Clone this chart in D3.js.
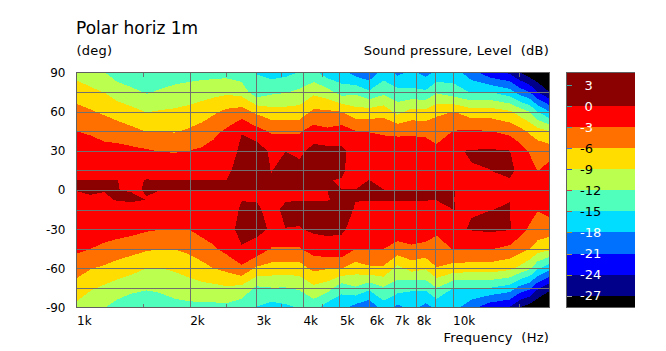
<!DOCTYPE html>
<html>
<head>
<meta charset="utf-8">
<script src="https://cdn.jsdelivr.net/npm/d3@7"></script>
<style>
body { margin: 0; background: #fff; }
text { font-family: "DejaVu Sans", sans-serif; font-size: 13px; fill: #000; white-space: pre; }
.caption { letter-spacing: 0.22px; }
</style>
</head>
<body>
<div id="chart"></div>
<script>
// measured frequencies (Hz) and angles (deg), top row first
const freqs = [1000, 1090, 1187, 1285, 1400, 1535, 1662, 1822, 1986, 2150, 2314, 2505, 2747, 3011, 3301, 3596, 3918, 4269, 4651, 5067, 5521, 6001, 6556, 7141, 7781, 8476, 9067, 10061, 11232, 12542, 14181, 15071, 16026, 16829, 18100];
const angles = [90, 75, 60, 45, 30, 15, 7.5, 0, -7.5, -15, -30, -45, -60, -75, -90];

// level in dB, one list per angle
const deg90 = [-10, -11, -11.95, -13.5, -14.4, -14.5, -14.4, -13.8, -13.3, -13.1, -13, -13, -13.7, -15.1, -16.3, -15.8, -14.9, -14.2, -16.7, -17, -19.3, -20.5, -16.5, -18.8, -17.3, -19, -17.4, -16.5, -19.8, -23, -24.5, -27, -29, -30, -32];
const deg75 = [-7.4, -8.3, -9.1, -10.4, -11.2, -12.3, -11.6, -10.9, -10.6, -10.3, -10, -9.6, -10.2, -14, -12.6, -12.2, -11.4, -9.7, -10.8, -13.5, -12.6, -14.5, -12.8, -14, -14.3, -14.5, -12.4, -13.8, -15.2, -15, -16.7, -19.3, -21, -24, -27];
const deg60 = [-5.05, -5.7, -6.5, -7.4, -8.2, -9.1, -8.8, -8.6, -8.2, -7.5, -6.5, -5.4, -4.7, -6.6, -7.9, -7.9, -7.8, -5.4, -5.6, -6, -7.8, -7.7, -7.2, -10, -8, -8.2, -6.6, -6, -7.7, -7.5, -8.6, -10.3, -12, -15, -18];
const deg45 = [-3, -3.3, -3.9, -4.4, -5.2, -6.1, -6.1, -6.2, -5.6, -4.8, -3.8, -2.5, -0.1, -1.9, -3.4, -3.4, -3.3, -1.8, -2.4, -1.6, -2.9, -3.1, -3.4, -3.6, -3.5, -3.6, -4.3, -2.9, -2.7, -2.9, -3.9, -4.9, -6.5, -7.7, -9];
const deg30 = [-1.8, -1.9, -2.2, -2.1, -2.3, -2.7, -3.1, -3.2, -3, -2.6, -1.9, -1.3, 0.5, 1.7, -0.6, -0.05, -0.8, 1, 0.8, 0.5, -1, -1.2, -1.5, -1.4, -1.5, -1.7, -2.3, -0.2, 0.15, 0.3, 0.05, -1.7, -3.3, -4, -4.4];
const deg15 = [-0.7, -0.8, -0.9, -1, -1.1, -1.1, -1.1, -1.2, -1.1, -1, -0.7, -0.5, 1, 1.5, -0.1, 1.2, 1.1, 1.5, 1.5, 0.1, -0.3, -0.4, -0.5, -0.5, -0.6, -0.6, -0.8, -0.5, -0.1, -0.02, 1, -1, -1.7, -3.1, -1.8];
const deg7 = [0.02, 0.02, 0.02, 0.02, -0.5, 0.1, 0.02, 0.02, 0.02, 0.02, 0.02, 0.02, 1, 1, 0.3, 1, 1, 1, 0.02, -0.03, -0.3, 0.02, -0.4, -0.4, -0.4, -0.4, -0.4, -0.4, -0.4, -0.2, -0.3, -0.8, -1, -2, -0.9];
const deg0 = [0.05, 0.3, 0.05, 0.02, -0.1, 0.05, 0.05, 0.05, 0.05, 0.05, 0.05, 0.05, 0.005, 0.005, 0.01, 0.01, 0.01, 0.01, 0.01, 0.005, 0.02, 0.3, 0.02, 0.02, 0.02, 0.02, 0.02, 0.02, -0.3, -0.2, -0.2, -0.5, -0.5, -1.2, -0.5];
const degM7 = [-0.4, -0.3, -0.2, 0.1, 0.3, -0.03, -0.8, -0.8, -0.8, -0.8, -0.8, -0.5, -0.06, -0.06, -0.1, -0.1, -0.1, -0.1, -0.1, 0.5, 0.05, 0.05, 0.05, 0.05, 0.05, 0.05, 0.05, 0.02, -0.4, -0.2, -0.03, -0.8, -1, -2, -0.9];
const degM15 = [-0.7, -0.8, -0.7, -0.8, -1, -1.1, -1.1, -1.2, -1.1, -1, -0.8, -1.3, 0.3, 0.25, -0.5, 0.37, 0.8, 1, 1, 1, -0.2, -0.4, -0.5, -0.5, -0.6, -0.6, -0.8, 0.01, -0.15, -0.03, 0.1, -1.3, -1.9, -2.9, -2];
const degM30 = [-1.4, -1.6, -1.7, -1.7, -2, -2.6, -2.9, -3, -3, -2.1, -1.5, -1, 0.8, 0.5, -0.2, -0.03, -0.15, 0.5, 0.5, 0.3, -0.7, -1, -1.3, -1.4, -1.5, -1.7, -2.2, -0.5, 0.2, 0.5, 0.2, -1.8, -3.4, -4, -4.5];
const degM45 = [-2.4, -3, -3.6, -4.3, -4.9, -5.6, -5.9, -5.9, -5.3, -4.3, -3.4, -2.1, -0.2, -0.7, -3.2, -3.2, -3.2, -1.7, -0.9, -0.8, -2.9, -2.9, -3, -4, -3.4, -3.7, -4.6, -2.8, -2.7, -2.8, -3.7, -4.8, -5.9, -7.5, -8.3];
const degM60 = [-4.75, -5.85, -6.5, -7.3, -8, -9, -9.1, -8.6, -7.9, -7, -6, -5.2, -3.6, -6.5, -7.2, -7.5, -7.3, -5.3, -5.8, -5.9, -7.5, -6.5, -6.5, -10, -7.8, -8.7, -6.1, -7.2, -7.5, -7.4, -8.3, -9.7, -11.5, -14.5, -17.1];
const degM75 = [-7.2, -8.6, -9.5, -10.3, -11.1, -11.7, -11.4, -10.8, -10.3, -9.9, -9.8, -9.4, -9.9, -12.5, -12.1, -12.1, -11.6, -9.7, -10.6, -14, -12.3, -14.2, -12.3, -13.5, -14.6, -14.3, -12, -15, -15.1, -15, -16.3, -19, -20.3, -23.5, -26];
const degM90 = [-9.8, -11.4, -11.95, -13.2, -14.2, -14.1, -13.8, -13, -12.8, -12.8, -12.8, -12.7, -13.7, -15.1, -16.2, -15.6, -14.8, -13.8, -16.7, -17, -19.2, -20.5, -16.5, -18.8, -17, -19, -17.4, -17, -20, -23, -24.2, -27, -28.5, -30, -32];

const levelRows = [deg90, deg75, deg60, deg45, deg30, deg15, deg7, deg0, degM7, degM15, degM30, degM45, degM60, degM75, degM90];

// axes
const xTicks = [1000, 2000, 3000, 4000, 5000, 6000, 7000, 8000, 10000];
const xTickLabels = ["1k", "2k", "3k", "4k", "5k", "6k", "7k", "8k", "10k"];
const xGrid = [2000, 3000, 4000, 5000, 6000, 7000, 8000, 9000, 10000];
const xMinor = [1500, 2500, 3500, 4500, 15000];
const yTicks = [90, 60, 30, 0, -30, -60, -90];
const yGrid = [75, 60, 45, 30, 15, 0, -15, -30, -45, -60, -75];

// colour bands, lowest level first
const thresholds = [-27, -24, -21, -18, -15, -12, -9, -6, -3, 0];
const bandColors = ["#00008b", "#0000ff", "#0070ff", "#00ddff", "#4fffbb", "#bbff4f", "#ffdd00", "#ff7000", "#ff0000", "#8b0000"];
const legendTicks = [3, 0, -3, -6, -9, -12, -15, -18, -21, -24, -27];
const legendTextColors = ["#fff", "#fff", "#fff", "#000", "#000", "#000", "#000", "#fff", "#fff", "#fff", "#fff"];
const legendTickColors = ["#3fa0a0", "#3fa0a0", "#3fa0a0", "#3f70e0", "#3050d0", "#d04040", "#b06040", "#b09020", "#b09050", "#a0a020", "#a0a0a0"];

let svg = d3.select("#chart")
    .append("svg")
    .attr("width", 666)
    .attr("height", 351)
    .style("display", "block");

let plotLeft = 76.5, plotRight = 549.5, plotTop = 72.5, plotBottom = 307.5;

let x = d3.scaleLog().domain([1000, 18100]).range([plotLeft, plotRight]);
let y = d3.scaleLinear().domain([90, -90]).range([plotTop, plotBottom]);

// contour grid index -> pixel; grid value i sits at i + 0.5 in d3.contours output
let colX = d3.scaleLinear().domain(d3.range(freqs.length)).range(freqs.map(f => x(f))).clamp(true);
let rowY = d3.scaleLinear().domain(d3.range(angles.length)).range(angles.map(a => y(a))).clamp(true);
let gridPath = d3.geoPath(d3.geoTransform({
    point: function (a, b) { this.stream.point(colX(a - 0.5), rowY(b - 0.5)); }
}));

let contours = d3.contours()
    .size([freqs.length, angles.length])
    .thresholds(thresholds)(levelRows.flat());

// anything below the lowest threshold stays black
svg.append("rect")
    .attr("x", plotLeft).attr("y", plotTop)
    .attr("width", plotRight - plotLeft).attr("height", plotBottom - plotTop)
    .attr("fill", "#000");

svg.append("g")
    .attr("shape-rendering", "crispEdges")
    .selectAll("path")
    .data(contours)
    .enter()
    .append("path")
    .attr("d", gridPath)
    .attr("fill", (d, i) => bandColors[i]);

// grid
let grid = svg.append("g")
    .attr("stroke", "#707070")
    .attr("shape-rendering", "crispEdges");
grid.selectAll(".gx").data(xGrid).enter().append("line")
    .attr("x1", d => Math.round(x(d)) + 0.5).attr("x2", d => Math.round(x(d)) + 0.5)
    .attr("y1", plotTop).attr("y2", plotBottom);
grid.selectAll(".gy").data(yGrid).enter().append("line")
    .attr("x1", plotLeft).attr("x2", plotRight)
    .attr("y1", d => Math.round(y(d)) + 0.5).attr("y2", d => Math.round(y(d)) + 0.5);
grid.selectAll(".mt").data(xMinor).enter().append("line")
    .attr("x1", d => Math.round(x(d)) + 0.5).attr("x2", d => Math.round(x(d)) + 0.5)
    .attr("y1", plotTop).attr("y2", plotTop + 4);
grid.selectAll(".mb").data(xMinor).enter().append("line")
    .attr("x1", d => Math.round(x(d)) + 0.5).attr("x2", d => Math.round(x(d)) + 0.5)
    .attr("y1", plotBottom - 4).attr("y2", plotBottom);

svg.append("rect")
    .attr("x", plotLeft).attr("y", plotTop)
    .attr("width", plotRight - plotLeft).attr("height", plotBottom - plotTop)
    .attr("fill", "none")
    .attr("stroke", "#606060")
    .attr("shape-rendering", "crispEdges");

// axes, labels only
let xAxis = svg.append("g")
    .attr("transform", "translate(0," + plotBottom + ")")
    .call(d3.axisBottom(x).tickValues(xTicks).tickSize(0).tickPadding(9)
        .tickFormat((d, i) => xTickLabels[i]));
xAxis.select(".domain").remove();
xAxis.selectAll("text").style("text-anchor", "start").style("font-size", "12px").style("font-family", "'DejaVu Sans'");

let yAxis = svg.append("g")
    .attr("transform", "translate(" + plotLeft + ",0)")
    .call(d3.axisLeft(y).tickValues(yTicks).tickSize(0).tickPadding(11)
        .tickFormat(d => String(d)));
yAxis.select(".domain").remove();
yAxis.selectAll("text").style("font-size", "12px").style("font-family", "'DejaVu Sans'");

// titles
svg.append("text").attr("x", 76).attr("y", 34).style("font-size", "17px").text("Polar horiz 1m");
svg.append("text").attr("class", "caption").attr("x", 76.5).attr("y", 55).text("(deg)");
svg.append("text").attr("class", "caption").attr("x", 549).attr("y", 55).style("text-anchor", "end").text("Sound pressure, Level  (dB)");
svg.append("text").attr("class", "caption").attr("x", 549).attr("y", 342).style("text-anchor", "end").text("Frequency  (Hz)");

// colour bar
let legendLeft = 566.5, legendRight = 635;
let legendY = d3.scaleLinear().domain([3, -27]).range([85, 295.7]);
let legendEdges = [plotTop].concat(thresholds.slice().reverse().map(t => legendY(t)), [plotBottom]);
let legendColors = bandColors.slice().reverse().concat(["#000"]);

let legend = svg.append("g");
legend.selectAll("rect").data(legendColors).enter().append("rect")
    .attr("x", legendLeft)
    .attr("y", (d, i) => legendEdges[i])
    .attr("width", legendRight - legendLeft)
    .attr("height", (d, i) => legendEdges[i + 1] - legendEdges[i])
    .attr("fill", d => d)
    .attr("shape-rendering", "crispEdges");
legend.selectAll("line").data(legendTicks).enter().append("line")
    .attr("x1", legendLeft).attr("x2", legendLeft + 5)
    .attr("y1", d => Math.round(legendY(d)) + 0.5).attr("y2", d => Math.round(legendY(d)) + 0.5)
    .attr("stroke", (d, i) => legendTickColors[i])
    .attr("shape-rendering", "crispEdges");
legend.selectAll("text").data(legendTicks).enter().append("text")
    .attr("x", d => d < 0 ? 580 : 584.5)
    .attr("y", d => legendY(d))
    .attr("dy", "0.36em")
    .style("fill", (d, i) => legendTextColors[i])
    .text(d => d);
legend.append("path")
    .attr("d", "M" + legendRight + "," + plotTop + "H" + legendLeft + "V" + plotBottom + "H" + legendRight)
    .attr("fill", "none")
    .attr("stroke", "#606060")
    .attr("shape-rendering", "crispEdges");
</script>
</body>
</html>
